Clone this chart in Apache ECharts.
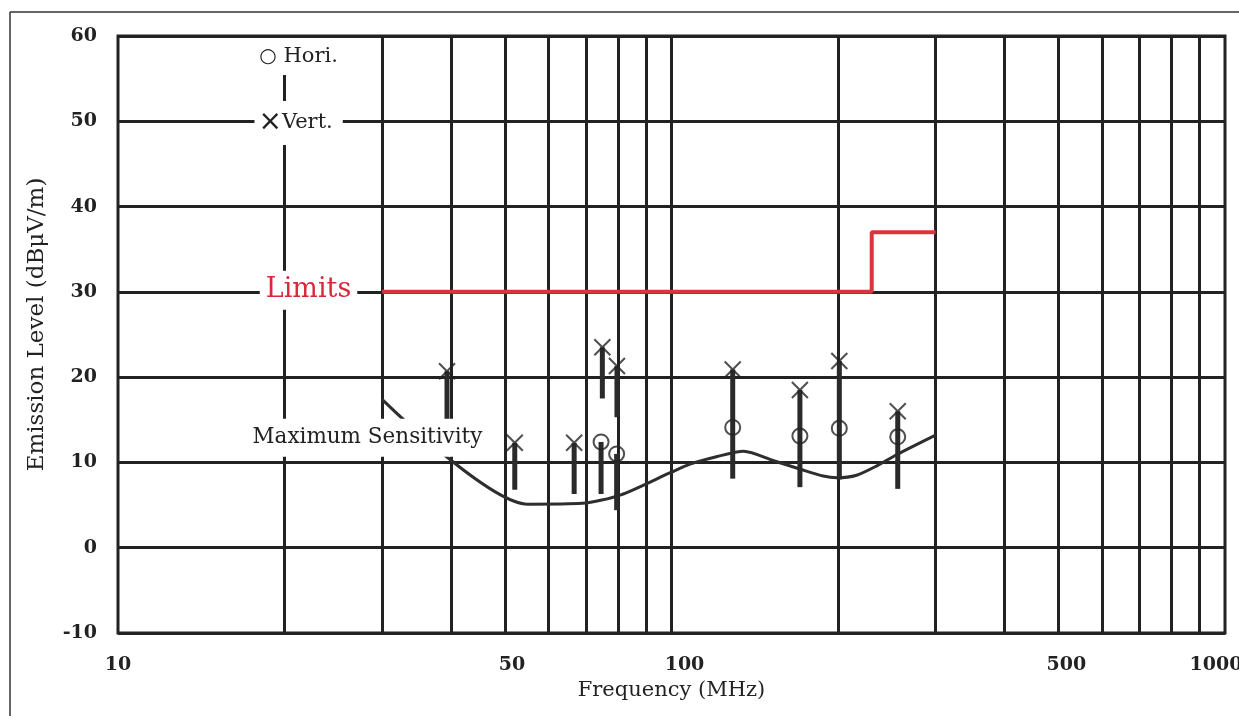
<!DOCTYPE html>
<html><head><meta charset="utf-8">
<script src="https://cdn.jsdelivr.net/npm/echarts@6/dist/echarts.min.js"></script>
<style>html,body{margin:0;padding:0;background:#fff}#c{width:1239px;height:728px}</style>
</head><body><div id="c"></div>
<script>
// ---- data ----
const xTickLabels = [10, 50, 100, 500, 1000];
const gridFreqs = [20, 30, 40, 50, 60, 70, 80, 90, 100, 200, 300, 400, 500, 600, 700, 800, 900];
const yMin = -10, yMax = 60, yStep = 10;

const limitFreq = [30, 230, 230, 300];
const limitLevel = [30, 30, 37, 37];

const sensFreq = [30, 55, 69, 81, 99.5, 108, 121, 135, 153, 171, 188, 199, 216, 235, 255, 300];
const sensLevel = [17.4, 5.1, 5.2, 6.2, 8.8, 9.8, 10.7, 11.3, 10.2, 9.2, 8.4, 8.2, 8.5, 9.6, 10.9, 13.2];

const vertFreq = [39.3, 52.1, 66.7, 75.0, 79.7, 129, 170.6, 201, 256.3];
const vertLevel = [20.7, 12.3, 12.3, 23.5, 21.3, 20.9, 18.5, 21.9, 16.0];

const horiFreq = [74.6, 79.6, 129, 170.6, 201, 256.3];
const horiLevel = [12.4, 11.0, 14.1, 13.1, 14.0, 13.0];

const barFreq   = [39.3, 52.1, 66.7, 75.0, 74.6, 79.7, 79.6, 129, 170.6, 201, 256.3];
const barTop    = [20.7, 12.3, 12.3, 23.5, 12.4, 21.3, 11.0, 20.9, 18.5, 21.9, 16.0];
const barBottom = [15.0, 6.8, 6.3, 17.5, 6.3, 15.3, 4.4, 8.1, 7.1, 8.0, 6.9];

// ---- chart ----
const FONT = 'DejaVu Serif';
const INK = '#222';
const chart = echarts.init(document.getElementById('c'), null, {renderer: 'canvas'});

const zip = (a, b) => a.map((v, i) => [v, b[i]]);
const tickRich = {};
const tickShift = {10: [0,0,0,0], 50: [0,0,0,14], 100: [0,0,0,26], 500: [0,0,0,16], 1000: [0,18,0,0]};
xTickLabels.forEach(v => {
  tickRich['t' + v] = {fontFamily: FONT, fontWeight: 'bold', fontSize: 19, color: INK, padding: tickShift[v] || 0};
});

const option = {
  backgroundColor: '#fff',
  animation: false,
  grid: {left: 118, right: 14, top: 36, bottom: 95, show: true, borderColor: INK, borderWidth: 3,
         containLabel: false, outerBoundsMode: 'none'},
  xAxis: {
    type: 'log', logBase: 10, min: 10, max: 1000,
    name: 'Frequency (MHz)', nameLocation: 'middle', nameGap: 45,
    nameTextStyle: {fontFamily: FONT, fontSize: 21, color: INK},
    axisLine: {show: false}, axisTick: {show: false},
    splitLine: {show: false}, minorSplitLine: {show: false},
    axisLabel: {
      customValues: xTickLabels, margin: 23, hideOverlap: false,
      formatter: v => '{t' + Math.round(v) + '|' + Math.round(v) + '}',
      rich: tickRich
    }
  },
  yAxis: {
    type: 'value', min: yMin, max: yMax, interval: yStep,
    name: 'Emission Level (dBμV/m)', nameLocation: 'middle', nameGap: 69, nameRotate: 90,
    nameTextStyle: {fontFamily: FONT, fontSize: 23, color: INK, padding: [0, 0, 0, 20]},
    axisLine: {show: false}, axisTick: {show: false},
    axisLabel: {margin: 21, fontFamily: FONT, fontWeight: 'bold', fontSize: 19, color: INK},
    splitLine: {show: true, lineStyle: {color: INK, width: 3}}
  },
  graphic: [
    {type: 'line', shape: {x1: 10, y1: 12, x2: 1239, y2: 12}, style: {stroke: '#333', lineWidth: 1.5}, silent: true},
    {type: 'line', shape: {x1: 10, y1: 12, x2: 10, y2: 716}, style: {stroke: '#333', lineWidth: 1.5}, silent: true}
  ],
  series: [
    { // vertical grid lines
      type: 'line', data: [], silent: true, z: 1,
      markLine: {
        z: 1, silent: true, symbol: ['none', 'none'], animation: false,
        label: {show: false},
        lineStyle: {color: INK, width: 3, type: 'solid'},
        emphasis: {disabled: true},
        data: gridFreqs.map(f => ({xAxis: f}))
      }
    },
    {
      name: 'Limits', type: 'line', z: 2, silent: true,
      data: zip(limitFreq, limitLevel), symbol: 'none',
      lineStyle: {color: '#d8363c', width: 4}
    },
    {
      name: 'Maximum Sensitivity', type: 'line', z: 2, silent: true,
      data: zip(sensFreq, sensLevel), symbol: 'none', smooth: 0.25,
      lineStyle: {color: '#2e2e2e', width: 3}
    },
    {
      type: 'custom', z: 3, silent: true,
      data: barFreq.map((f, i) => [f, barTop[i], barBottom[i]]),
      encode: {x: 0, y: [1, 2]},
      renderItem: (params, api) => {
        const p1 = api.coord([api.value(0), api.value(1)]);
        const p2 = api.coord([api.value(0), api.value(2)]);
        return {type: 'line', shape: {x1: p1[0], y1: p1[1], x2: p2[0], y2: p2[1]},
                style: {stroke: '#2a2a2a', lineWidth: 5}};
      }
    },
    {
      name: 'Vert.', type: 'scatter', z: 4, silent: true,
      data: zip(vertFreq, vertLevel),
      symbol: 'path://M0,0L10,10M10,0L0,10', symbolSize: 16,
      itemStyle: {color: 'transparent', borderColor: INK, borderWidth: 2}
    },
    {
      name: 'Hori.', type: 'scatter', z: 4, silent: true,
      data: zip(horiFreq, horiLevel),
      symbol: 'circle', symbolSize: 15,
      itemStyle: {color: 'transparent', borderColor: INK, borderWidth: 2}
    },
    { // annotations
      type: 'line', data: [], silent: true, z: 10,
      markPoint: {
        z: 10, silent: true, symbol: 'circle', symbolSize: 1, animation: false,
        itemStyle: {color: 'rgba(0,0,0,0)'},
        label: {show: true, position: 'inside', backgroundColor: '#fff', fontFamily: FONT, color: INK},
        data: [
          {coord: [21.2, 57.6], label: {formatter: '{c|○} Hori.', fontSize: 21, padding: [8, 6, 8, 6],
            rich: {c: {fontFamily: 'DejaVu Sans', fontSize: 20, color: INK}}}},
          {coord: [21.2, 49.8], label: {formatter: '{c|×}Vert.', fontSize: 21, padding: [8, 10, 8, 4],
            rich: {c: {fontFamily: 'DejaVu Sans', fontSize: 28, color: INK}}}},
          {coord: [22.09, 30.2], label: {formatter: 'Limits', fontSize: 27, color: '#d8283c', padding: [6, 6, 6, 6]}},
          {coord: [28.23, 12.9], label: {formatter: 'Maximum Sensitivity', fontSize: 21.5, padding: [8, 6, 8, 6]}}
        ]
      }
    }
  ]
};
chart.setOption(option);
</script>
</body></html>
